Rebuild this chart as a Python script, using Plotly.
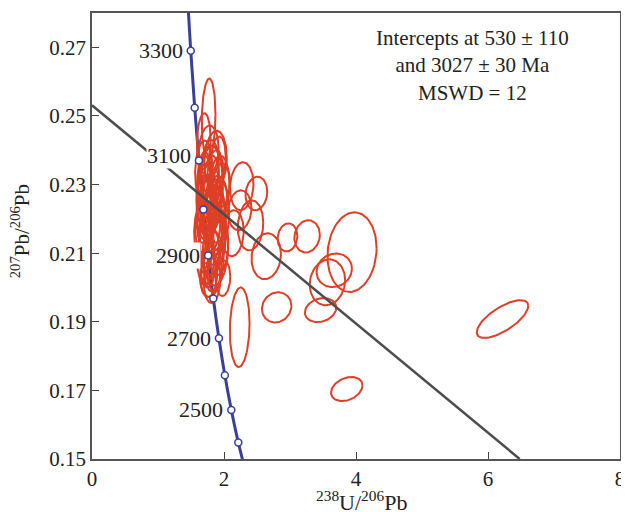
import numpy as np
import plotly.graph_objects as go

# concordia ticks (Ma) and their positions
conc_age = [2300, 2400, 2500, 2600, 2700, 2800, 2900, 3000, 3100, 3200, 3300, 3400]
conc_x = [2.332, 2.217, 2.111, 2.013, 1.923, 1.838, 1.760, 1.688, 1.620, 1.556, 1.496, 1.440]
conc_y = [0.1460, 0.1548, 0.1643, 0.1744, 0.1852, 0.1968, 0.2093, 0.2227, 0.2370, 0.2524, 0.2690, 0.2868]
label_ages = [2500, 2700, 2900, 3100, 3300]

# discordia line end points
disc_x = [0.0, 6.48]
disc_y = [0.2531, 0.1500]

# error ellipses: centre, half widths, correlation
ell_x = [1.767, 1.693, 1.916, 2.268, 2.491, 2.238, 2.402, 2.134, 2.640, 2.962, 3.259,
         3.940, 3.671, 3.567, 3.463, 2.798, 2.238, 3.860, 6.220, 1.985, 1.792,
         1.768, 1.872, 1.693, 1.812, 1.931, 1.738, 1.857, 1.678, 1.797, 1.916,
         1.723, 1.842, 1.768, 1.887, 1.783, 1.827, 1.693, 1.961, 1.753, 1.872,
         1.710, 1.780, 1.840, 1.900, 1.730, 1.800, 1.870, 1.760, 1.820, 1.680,
         1.940, 1.790, 1.850, 1.720, 1.880, 1.810, 1.750, 1.920, 1.700, 1.860]
ell_y = [0.2493, 0.2426, 0.2376, 0.2295, 0.2274, 0.2225, 0.2181, 0.2158, 0.2091, 0.2146, 0.2149,
         0.2103, 0.2050, 0.2015, 0.1934, 0.1942, 0.1884, 0.1704, 0.1908, 0.2027, 0.2036,
         0.2399, 0.2370, 0.2341, 0.2312, 0.2297, 0.2225, 0.2196, 0.2167, 0.2138, 0.2123,
         0.2094, 0.2074, 0.2036, 0.2210, 0.2283, 0.2167, 0.2254, 0.2298, 0.2181, 0.2108,
         0.2280, 0.2240, 0.2260, 0.2200, 0.2150, 0.2100, 0.2330, 0.2060, 0.2020, 0.2200,
         0.2250, 0.2350, 0.2140, 0.2120, 0.2180, 0.2300, 0.2230, 0.2130, 0.2320, 0.2050]
ell_sx = [0.104, 0.104, 0.110, 0.178, 0.164, 0.178, 0.193, 0.164, 0.223, 0.149, 0.193,
          0.372, 0.268, 0.268, 0.238, 0.223, 0.149, 0.238, 0.390, 0.110, 0.150,
          0.150, 0.170, 0.130, 0.170, 0.150, 0.150, 0.170, 0.130, 0.170, 0.150,
          0.130, 0.150, 0.130, 0.190, 0.200, 0.200, 0.110, 0.130, 0.190, 0.190,
          0.110, 0.120, 0.110, 0.120, 0.110, 0.125, 0.120, 0.110, 0.125, 0.095,
          0.110, 0.130, 0.120, 0.105, 0.110, 0.120, 0.105, 0.100, 0.100, 0.110]
ell_sy = [0.0116, 0.0082, 0.0064, 0.0070, 0.0049, 0.0058, 0.0073, 0.0067, 0.0067, 0.0041, 0.0047,
          0.0116, 0.0049, 0.0067, 0.0035, 0.0044, 0.0116, 0.0035, 0.0055, 0.0052, 0.0064,
          0.0073, 0.0087, 0.0087, 0.0102, 0.0087, 0.0087, 0.0102, 0.0087, 0.0102, 0.0087,
          0.0087, 0.0087, 0.0064, 0.0116, 0.0131, 0.0131, 0.0073, 0.0064, 0.0087, 0.0102,
          0.0080, 0.0090, 0.0085, 0.0070, 0.0080, 0.0075, 0.0070, 0.0060, 0.0065, 0.0070,
          0.0060, 0.0080, 0.0075, 0.0080, 0.0070, 0.0085, 0.0090, 0.0065, 0.0075, 0.0060]
ell_rho = [0.1, 0.1, 0.1, 0.1, 0.1, 0.1, 0.1, 0.1, 0.1, 0.1, 0.1,
           0.1, 0.1, 0.1, 0.2, 0.1, 0.1, 0.3, 0.7, 0.1, 0.1,
           0.1, 0.1, 0.1, 0.1, 0.1, 0.1, 0.1, 0.1, 0.1, 0.1,
           0.1, 0.1, 0.1, 0.1, 0.1, 0.1, 0.1, 0.1, 0.1, 0.1,
           0.1, 0.1, 0.1, 0.1, 0.1, 0.1, 0.1, 0.1, 0.1, 0.1,
           0.1, 0.1, 0.1, 0.1, 0.1, 0.1, 0.1, 0.1, 0.1, 0.1]

red = "#de3f26"
navy = "#3b3f99"
ink = "#222"
serif = "Liberation Serif, Times New Roman, serif"

fig = go.Figure()

fig.add_trace(go.Scatter(x=conc_x, y=conc_y, mode="lines",
                         line=dict(color=navy, width=3, shape="spline"),
                         hoverinfo="skip", showlegend=False))

t = np.linspace(0, 2 * np.pi, 90)
for cx, cy, sx, sy, r in zip(ell_x, ell_y, ell_sx, ell_sy, ell_rho):
    ex = cx + sx * np.cos(t)
    ey = cy + sy * (r * np.cos(t) + np.sqrt(1 - r * r) * np.sin(t))
    fig.add_trace(go.Scatter(x=ex, y=ey, mode="lines",
                             line=dict(color=red, width=2),
                             hoverinfo="skip", showlegend=False))

fig.add_trace(go.Scatter(x=disc_x, y=disc_y, mode="lines",
                         line=dict(color="#4d4d4d", width=2.5),
                         hoverinfo="skip", showlegend=False))

fig.add_trace(go.Scatter(x=conc_x, y=conc_y, mode="markers",
                         marker=dict(size=7, color="white", line=dict(color=navy, width=1.5)),
                         hoverinfo="skip", showlegend=False))

for age in label_ages:
    i = conc_age.index(age)
    fig.add_annotation(x=conc_x[i], y=conc_y[i], text=str(age), showarrow=False,
                       xanchor="right", xshift=-7, yshift=5 if age == 3100 else 0,
                       bgcolor="white", borderpad=0,
                       font=dict(family=serif, size=22, color=ink))

fig.add_annotation(xref="paper", yref="paper", x=0.72, y=0.975, xanchor="center", yanchor="top",
                   text="Intercepts at 530 ± 110<br>and 3027 ± 30 Ma<br>MSWD = 12",
                   showarrow=False, align="center",
                   font=dict(family=serif, size=21, color=ink))

# axis titles as annotations so they sit where the original puts them
fig.add_annotation(xref="paper", yref="paper", x=-0.135, y=0.51, textangle=-90,
                   xanchor="center", yanchor="middle",
                   text="<sup>207</sup>Pb/<sup>206</sup>Pb", showarrow=False,
                   font=dict(family=serif, size=21, color=ink))
fig.add_annotation(xref="paper", yref="paper", x=0.51, y=-0.095,
                   xanchor="center", yanchor="middle",
                   text="<sup>238</sup>U/<sup>206</sup>Pb", showarrow=False,
                   font=dict(family=serif, size=22, color=ink))

axis_common = dict(showline=True, linecolor="#555", linewidth=1.5, mirror=True,
                   ticks="inside", ticklen=7, tickcolor="#444", showgrid=False, zeroline=False,
                   automargin=False, ticklabeloverflow="allow",
                   tickfont=dict(family=serif, size=21, color=ink))

fig.update_xaxes(range=[0, 8], tickvals=[0, 2, 4, 6, 8], **axis_common)
fig.update_yaxes(range=[0.15, 0.28], tickvals=[0.15, 0.17, 0.19, 0.21, 0.23, 0.25, 0.27],
                 tickformat=".2f", **axis_common)

# page has an 8px body margin, so the figure is trimmed by that amount
fig.update_layout(width=621, height=504, margin=dict(l=84, r=9, t=5, b=53),
                  plot_bgcolor="white", paper_bgcolor="white")

fig.write_html("out.html")
